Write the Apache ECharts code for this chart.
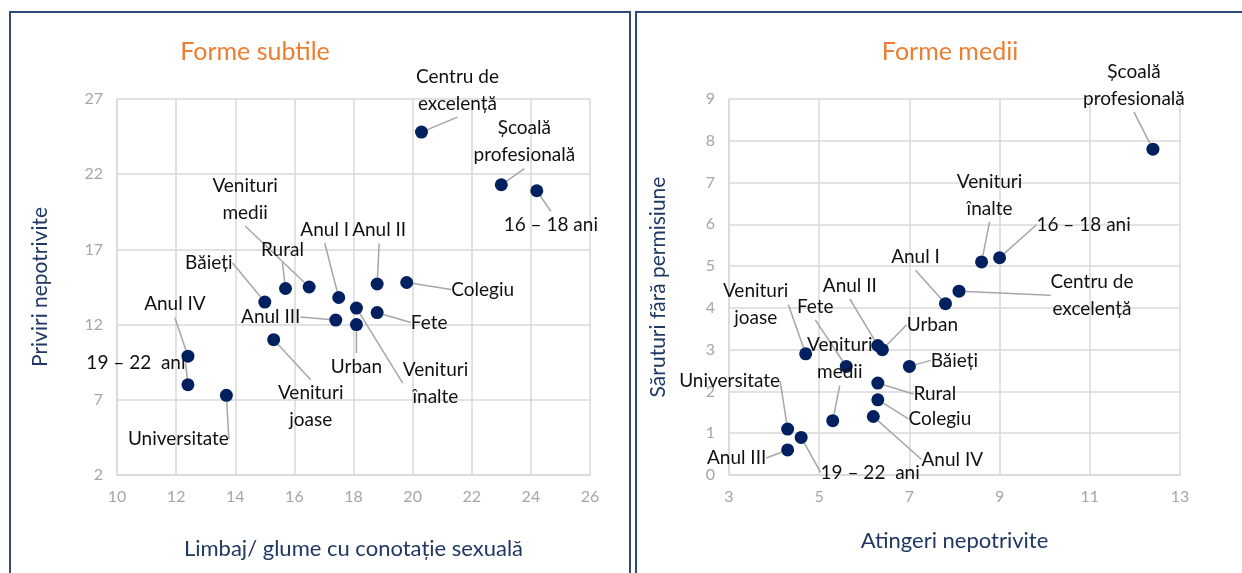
<!DOCTYPE html>
<html>
<head>
<meta charset="utf-8">
<script src="https://cdn.jsdelivr.net/npm/echarts@6/dist/echarts.min.js"></script>
<style>
  html, body { margin: 0; padding: 0; background: #fff; }
  #chart { width: 1242px; height: 573px; }
</style>
</head>
<body>
<div id="chart"></div>
<script>
// Forme subtile (left)
let subtleNames = ['Centru de\nexcelență', 'Școală\nprofesională', '16 – 18 ani', 'Colegiu', 'Anul II', 'Venituri\nmedii',
    'Rural', 'Anul I', 'Băieți', 'Venituri\nînalte', 'Fete', 'Anul III', 'Urban', 'Venituri\njoase', 'Anul IV',
    '19 – 22  ani', 'Universitate'];
let subtleX = [20.3, 23.0, 24.2, 19.8, 18.8, 16.5, 15.7, 17.5, 15.0, 18.1, 18.8, 17.4, 18.1, 15.3, 12.4, 12.4, 13.7];
let subtleY = [24.8, 21.3, 20.9, 14.8, 14.7, 14.5, 14.4, 13.8, 13.5, 13.1, 12.8, 12.3, 12.0, 11.0, 9.9, 8.0, 7.3];

// Forme medii (right)
let mediumNames = ['Școală\nprofesională', '16 – 18 ani', 'Venituri\nînalte', 'Centru de\nexcelență', 'Anul I', 'Anul II',
    'Urban', 'Venituri\njoase', 'Fete', 'Băieți', 'Rural', 'Colegiu', 'Anul IV', 'Venituri\nmedii', 'Universitate',
    '19 – 22  ani', 'Anul III'];
let mediumX = [12.4, 9.0, 8.6, 8.1, 7.8, 6.3, 6.4, 4.7, 5.6, 7.0, 6.3, 6.3, 6.2, 5.3, 4.3, 4.6, 4.3];
let mediumY = [7.8, 5.2, 5.1, 4.4, 4.1, 3.1, 3.0, 2.9, 2.6, 2.6, 2.2, 1.8, 1.4, 1.3, 1.1, 0.9, 0.6];

// label offsets from the dot (px), same order as the names
let subtleOffsets = [[36, -42], [23, -43], [14, 34], [76, 7], [2, -54], [-64, -88], [-3, -39], [-14, -68], [-56, -39],
    [79, 75], [52, 10], [-65, -3], [0, 42], [37, 67], [-13, -52], [-52, -22], [-48, 44]];
let mediumOffsets = [[-19, -64], [84, -33], [8, -67], [133, 4], [-30, -47], [-28, -60], [50, -25], [-50, -49], [-31, -60],
    [45, -6], [57, 11], [62, 19], [79, 43], [7, -62], [-58, -48], [69, 35], [-51, 8]];

const FONT = 'Lato';
const tickColor = '#A6A6A6';
const gridColor = '#D9D9D9';
const nameColor = '#1F3864';

function toPoints(names, xs, ys) {
    return names.map((n, i) => ({ name: n, value: [xs[i], ys[i]] }));
}

function axisOf(idx, min, max, interval, name, gap, nameSize) {
    return {
        gridIndex: idx, type: 'value', min: min, max: max, interval: interval,
        name: name, nameLocation: 'middle', nameGap: gap,
        nameTextStyle: { color: nameColor, fontSize: nameSize, fontFamily: FONT },
        axisLine: { show: true, lineStyle: { color: gridColor, width: 1.5 } },
        axisTick: { show: false },
        axisLabel: { color: tickColor, fontSize: 16, fontFamily: FONT, margin: 14 },
        splitLine: { show: true, lineStyle: { color: gridColor, width: 1.5 } }
    };
}

function scatterOf(idx, data, offsets) {
    return {
        type: 'scatter',
        xAxisIndex: idx, yAxisIndex: idx,
        data: data,
        symbolSize: 13,
        itemStyle: { color: '#002060', opacity: 1 },
        label: {
            show: true,
            position: 'inside',
            formatter: '{b}',
            color: '#111',
            fontSize: 19,
            lineHeight: 27,
            fontFamily: FONT,
            align: 'center',
            verticalAlign: 'middle'
        },
        labelLine: { show: true, lineStyle: { color: '#A6A6A6', width: 1.5 } },
        labelLayout: function (params) {
            const o = offsets[params.dataIndex];
            return { dx: o[0], dy: o[1] };
        },
        emphasis: { disabled: true }
    };
}

var myChart = echarts.init(document.getElementById('chart'));

var option = {
    animation: false,
    title: [
        { text: 'Forme subtile', left: 250, top: 34, textAlign: 'center',
          textStyle: { color: '#ED7D31', fontSize: 25, fontWeight: 'normal', fontFamily: FONT } },
        { text: 'Forme medii', left: 945, top: 34, textAlign: 'center',
          textStyle: { color: '#ED7D31', fontSize: 25, fontWeight: 'normal', fontFamily: FONT } }
    ],
    graphic: [
        { type: 'rect', shape: { x: 10, y: 12, width: 620, height: 580 },
          style: { fill: 'none', stroke: '#2F4A7A', lineWidth: 2 }, silent: true },
        { type: 'rect', shape: { x: 636, y: 12, width: 620, height: 580 },
          style: { fill: 'none', stroke: '#2F4A7A', lineWidth: 2 }, silent: true }
    ],
    grid: [
        { left: 117, right: 652, top: 99, bottom: 98 },
        { left: 729, right: 62, top: 99, bottom: 98 }
    ],
    xAxis: [
        axisOf(0, 10, 26, 2, 'Limbaj/ glume cu conotație sexuală', 63, 22),
        axisOf(1, 3, 13, 2, 'Atingeri nepotrivite', 55, 22)
    ],
    yAxis: [
        axisOf(0, 2, 27, 5, 'Priviri nepotrivite', 66, 21),
        axisOf(1, 0, 9, 1, 'Săruturi fără permisiune', 60, 21)
    ],
    series: [
        scatterOf(0, toPoints(subtleNames, subtleX, subtleY), subtleOffsets),
        scatterOf(1, toPoints(mediumNames, mediumX, mediumY), mediumOffsets)
    ]
};

myChart.setOption(option);
</script>
</body>
</html>
